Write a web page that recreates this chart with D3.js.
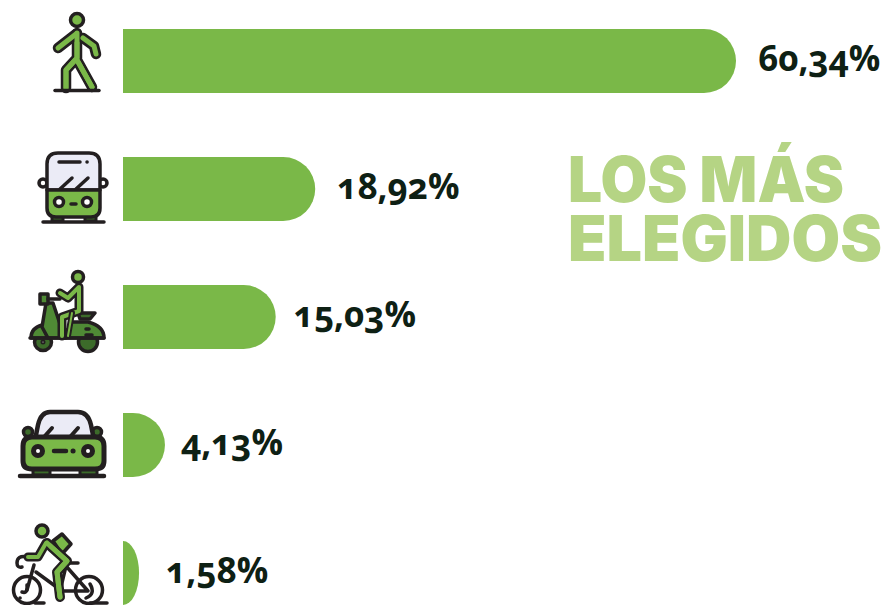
<!DOCTYPE html>
<html><head><meta charset="utf-8">
<script src="https://cdn.jsdelivr.net/npm/d3@7/dist/d3.min.js"></script>
<style>html,body{margin:0;padding:0;background:#fff}svg{display:block}
.lab{font-family:"Open Sans",Lato,sans-serif;font-weight:700;font-feature-settings:"onum";fill:#0e2014;font-size:35px}
.ttl{font-family:Inter,Lato,sans-serif;font-weight:900;fill:#b5d484;font-size:63px}</style>
</head><body><script>
const categories=["A pie","Colectivo","Moto","Auto","Bicicleta"];
const values=[60.34,18.92,15.03,4.13,1.58];
const titleLines=["LOS MÁS","ELEGIDOS"];
const W=888,H=605,GREEN="#7ab848",INK="#231f20",PALE="#ebebf6",DARKG="#3c6b2a",MIDG="#4f8a35";
const labelGaps=[22,22,18,16,27], titleWidths=[273,311];

const svg=d3.select("body").append("svg").attr("width",W).attr("height",H);
const x=d3.scaleLinear().domain([0,60.34]).range([123,736]);
const y=d3.scaleBand().domain(categories).range([29,605]).paddingInner(.5);
const fmt=d3.formatLocale({decimal:",",thousands:".",grouping:[3],currency:["",""]}).format(".2f");

const barPath=v=>{
  const x0=x(0),x1=x(v),h=y.bandwidth(),r=h/2,rx=Math.min(r,x1-x0);
  return `M${x0},0H${x1-rx}A${rx},${r} 0 0 1 ${x1-rx},${h}H${x0}Z`;
};
const rows=svg.selectAll("g.row").data(categories).join("g").attr("class","row")
  .attr("transform",c=>`translate(0,${y(c)})`);
rows.append("path").attr("d",(c,i)=>barPath(values[i])).attr("fill",GREEN);
rows.append("text").attr("class","lab").attr("x",(c,i)=>x(values[i])+labelGaps[i])
  .attr("y",y.bandwidth()/2+10).text((c,i)=>fmt(values[i])+"%");

svg.selectAll("text.ttl").data(titleLines).join("text").attr("class","ttl")
  .attr("x",568).attr("y",(d,i)=>202+i*59)
  .attr("textLength",(d,i)=>titleWidths[i]+3).attr("lengthAdjust","spacingAndGlyphs").text(d=>d);

/* ---------- pictograms ---------- */
const ic=svg.append("g").attr("stroke-linecap","round").attr("stroke-linejoin","round");
const line=(d,w=3.5,c=INK)=>ic.append("path").attr("d",d).attr("fill","none").attr("stroke",c).attr("stroke-width",w);
const shape=(d,f,w=3.5)=>ic.append("path").attr("d",d).attr("fill",f).attr("stroke",INK).attr("stroke-width",w);
const circ=(cx,cy,r,f,w=3.5)=>ic.append("circle").attr("cx",cx).attr("cy",cy).attr("r",r).attr("fill",f).attr("stroke",INK).attr("stroke-width",w);
const limb=(d,o=10.5,i=5)=>{line(d,o);line(d,i,GREEN)};

// walker
circ(77,20,6.5,GREEN);
limb("M77,33V58L66,70V88M77,60L92,87");
limb("M76,34L58,48");
limb("M83,38L94,46L96,54");
line("M77,33V58L66,70V88M77,60L92,87",5,GREEN);
line("M55,90.5H99",3.5);

// bus
shape("M52,215H63V221H52ZM85,215H96V221H85Z",DARKG,3);
circ(43,183,4,"#fff");circ(103,183,4,"#fff");
shape("M47,190V164Q47,153 58,153H89Q100,153 100,164V190Z",PALE);
shape("M47,190H100V208Q100,217 91,217H56Q47,217 47,208Z",GREEN);
line("M59,162H80");line("M87,162H87.1");
line("M60,189L72,178");line("M76,189L88,178");
circ(59,202,4.5,"#fff");circ(87,202,4.5,"#fff");
line("M71,204H76");
line("M43,222H104");

// scooter
circ(43,342,8.5,DARKG);circ(88,342,9.5,DARKG);
circ(43,342,1.5,"#fff",2);
shape("M31,338Q31,328 42,325L48,338Z",MIDG);
shape("M46,303L42,327L48,338H66L70,330H62L53,303Z",MIDG);
shape("M64,338L72,322H88Q104,326 104,338Z",MIDG);
shape("M78,313H95L90,319H80Z",DARKG);
shape("M40,294H48V304H40Z",MIDG);
line("M48,299H60",3.5);
line("M86,329H89M86,335H92");
line("M30,338H104",3.5);
circ(78,277,5.5,GREEN);
limb("M60,293L68,298L79,287V311L62,317V336",9,4);
limb("M72,313L68,336",6,2);

// car
circ(28,432,4.5,DARKG);circ(97,432,4.5,DARKG);
shape("M35,440L38,425Q41,412 50,412H78Q88,412 91,425L94,440Z",PALE,4.5);
line("M44,437L52,428",4);line("M70,437L78,428",4);
shape("M33,468H50V475H33ZM80,468H97V475H80Z",DARKG,3);
shape("M23,446Q23,437 32,437H95Q104,437 104,446V461Q104,469 95,469H32Q23,469 23,461Z",GREEN,5);
circ(38,451,4.5,"#fff",5);circ(88,451,4.5,"#fff",5);
line("M54,451H66",4.5);line("M73,451H73.1",5);
line("M20,476H104",4.5);

// bicycle
circ(27,590,13.5,"#fff");circ(89,590,13.5,"#fff");
line("M34,565L27,590M36,572L62,591H88L66,566M60,591L66,566");
line("M67,563H78");
line("M27,557Q17,555 17,563Q17,568 22,567");
line("M20,598H20.1M22,592Q28,594 27,585M86,598Q96,594 90,584");
shape("M53,541L62,534L71,544L62,554Z",GREEN);
circ(42,531,6,GREEN);
limb("M47,543L67,561L57,572L60,597",10,5);
limb("M46,543L38,557H28",9,4);
line("M47,543L67,561L57,572L60,597",5,GREEN);
line("M35,603H44M90,603H107");
</script></body></html>
